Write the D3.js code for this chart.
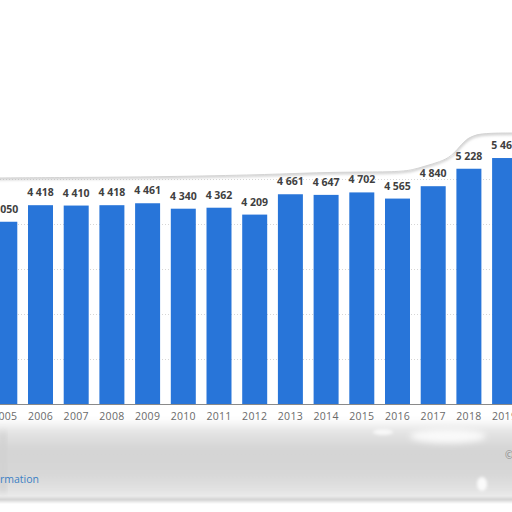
<!DOCTYPE html>
<html><head><meta charset="utf-8">
<script src="https://cdn.jsdelivr.net/npm/d3@7"></script>
<style>
html,body{margin:0;padding:0;background:#fff;}
svg{display:block;}
</style></head>
<body>
<svg id="c" width="512" height="512"></svg>
<script>
const years = ["2005","2006","2007","2008","2009","2010","2011","2012","2013","2014","2015","2016","2017","2018","2019"];
const values = [4050,4418,4410,4418,4461,4340,4362,4209,4661,4647,4702,4565,4840,5228,5466];
const gridTicks = [1000,2000,3000,4000,5000];

const svg = d3.select("#c");
const defs = svg.append("defs");
defs.append("filter").attr("id","blur6").attr("x","-20%").attr("y","-50%").attr("width","140%").attr("height","200%")
  .append("feGaussianBlur").attr("stdDeviation",5);
defs.append("filter").attr("id","blur3").attr("x","-30%").attr("y","-80%").attr("width","160%").attr("height","260%")
  .append("feGaussianBlur").attr("stdDeviation",3);
defs.append("filter").attr("id","blur2").attr("x","-20%").attr("y","-50%").attr("width","140%").attr("height","200%")
  .append("feGaussianBlur").attr("stdDeviation",1.6);
defs.append("filter").attr("id","blur1")
  .append("feGaussianBlur").attr("stdDeviation",0.5);
const g1 = defs.append("linearGradient").attr("id","grayG").attr("x1",0).attr("y1",0).attr("x2",0).attr("y2",1);
g1.append("stop").attr("offset","0%").attr("stop-color","#ececec");
g1.append("stop").attr("offset","35%").attr("stop-color","#d3d3d3");
g1.append("stop").attr("offset","70%").attr("stop-color","#d8d8d8");
g1.append("stop").attr("offset","100%").attr("stop-color","#ebebeb");

const x = d3.scaleBand().domain(years).range([-13.05, 522.45]).paddingInner(0.3).paddingOuter(0.15);
const y = d3.scaleLinear().domain([0,6000]).range([404,134]);

// bottom gray smudge (background artifact)
const smudge = svg.append("g");
smudge.append("rect").attr("x",-20).attr("y",424).attr("width",560).attr("height",76)
  .attr("fill","url(#grayG)").attr("filter","url(#blur6)");
smudge.append("rect").attr("x",-5).attr("y",498).attr("width",520).attr("height",3)
  .attr("fill","#cacaca").attr("filter","url(#blur2)");
smudge.append("rect").attr("x",0).attr("y",432).attr("width",6).attr("height",60)
  .attr("fill","#d0d0d0").attr("filter","url(#blur3)");
smudge.append("ellipse").attr("cx",448).attr("cy",436).attr("rx",38).attr("ry",7)
  .attr("fill","#fafafa").attr("filter","url(#blur3)");
smudge.append("ellipse").attr("cx",383).attr("cy",432).attr("rx",10).attr("ry",3)
  .attr("fill","#f8f8f8").attr("filter","url(#blur2)");
smudge.append("ellipse").attr("cx",482).attr("cy",484).attr("rx",5).attr("ry",7)
  .attr("fill","#fafafa").attr("filter","url(#blur2)");
svg.append("rect").attr("x",0).attr("y",504).attr("width",512).attr("height",8).attr("fill","#fff");

// gridlines
svg.append("g").selectAll("line").data(gridTicks).join("line")
  .attr("x1",0).attr("x2",512)
  .attr("y1",d=>Math.round(y(d))+0.5).attr("y2",d=>Math.round(y(d))+0.5)
  .attr("stroke","#d6d6d6").attr("stroke-width",1).attr("stroke-dasharray","1,2");

// bars
svg.append("g").selectAll("rect").data(years).join("rect")
  .attr("x",d=>x(d)).attr("width",x.bandwidth())
  .attr("y",(d,i)=>y(values[i])).attr("height",(d,i)=>y(0)-y(values[i]))
  .attr("fill","#2875d9");

// baseline axis
const xAxis = d3.axisBottom(x).tickSize(0).tickPadding(9);
const ax = svg.append("g").attr("transform",`translate(0,${y(0)})`).call(xAxis);
ax.select(".domain").attr("stroke","#8a8a8a").attr("stroke-width",1.2);
ax.selectAll("text").attr("fill","#6a6a6a").attr("font-family","'Open Sans', sans-serif")
  .attr("font-size","10.5px").attr("letter-spacing","0.3px");

// value labels
const fmt = v => d3.format(",")(v).replace(/,/g," ");
svg.append("g").selectAll("text").data(years).join("text")
  .attr("x",d=>x(d)+x.bandwidth()/2).attr("y",(d,i)=>y(values[i])-9)
  .attr("text-anchor","middle").attr("fill","#3f3f3f")
  .attr("font-family","'Open Sans', sans-serif").attr("font-weight","bold").attr("font-size","10.5px")
  .text((d,i)=>fmt(values[i]));

// torn top edge (white mask + gray shadow)
const edge = [[-5,178],[60,177.5],[150,177],[256,175],[306,173],[350,172],[396,172],[413,170],[425,166],[440,162],[452,156],[460,146],[468,138],[478,134],[495,133],[517,133]];
const line = d3.line().curve(d3.curveBasis);
const maskPts = [[-5,-5]].concat(edge).concat([[517,-5]]);
svg.append("path").attr("d",line(edge)).attr("fill","none").attr("stroke","#b8b8b8")
  .attr("stroke-width",2).attr("filter","url(#blur2)").attr("transform","translate(0,0.5)");
svg.append("path").attr("d",d3.line()(maskPts)).attr("fill","#fff");
svg.append("path").attr("d",line(edge)).attr("fill","none").attr("stroke","#d4d4d4").attr("stroke-width",1);

// footer texts
svg.append("text").attr("x",0).attr("y",483).attr("fill","#3b7fc4")
  .attr("font-family","'Open Sans', sans-serif").attr("font-size","10.5px").text("rmation");
svg.append("text").attr("x",505).attr("y",459).attr("fill","#8a8a8a")
  .attr("font-family","'Open Sans', sans-serif").attr("font-size","10px").text("©");
</script>
</body></html>
